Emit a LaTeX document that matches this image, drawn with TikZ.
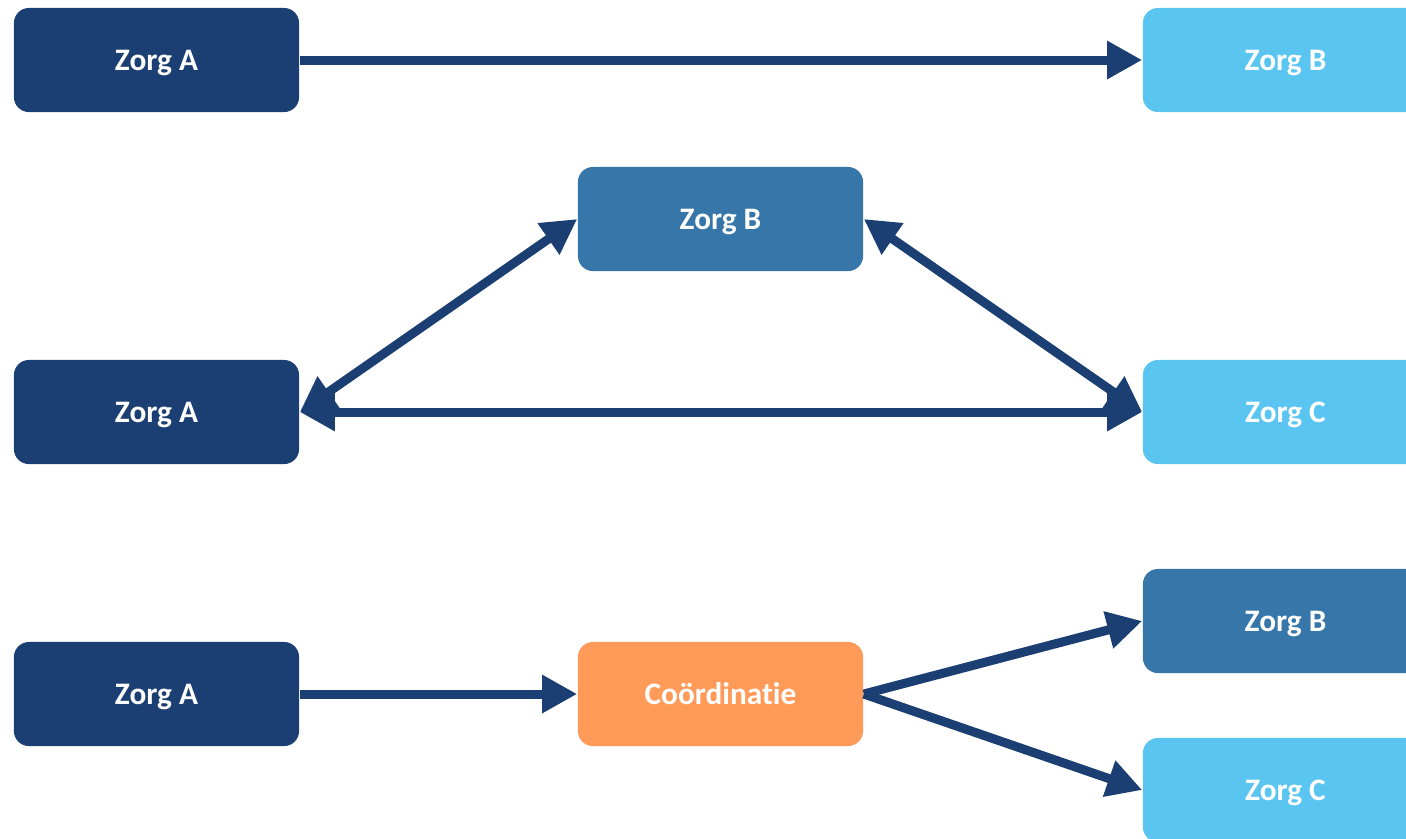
\documentclass[tikz,border=0pt]{standalone}
\usepackage{fontspec}
\setmainfont{Carlito}[Ligatures=NoCommon]
\usepackage{tikz}
\usetikzlibrary{arrows.meta}

\definecolor{navy}{HTML}{1B3F72}
\definecolor{midblue}{HTML}{3676A8}
\definecolor{lightblue}{HTML}{5BC5F2}
\definecolor{coord}{HTML}{FF9A59}

\tikzset{
    zorg/.style={rectangle, rounded corners=0.15cm, minimum width=2.85cm, minimum height=1.04cm, inner sep=0pt, text height=0.21cm, text depth=0cm, text=white, font=\fontsize{8.9}{10}\selectfont\bfseries},
    pijl/.style={navy, line width=0.09cm, -{Triangle[length=0.35cm,width=0.36cm]}},
    dpijl/.style={navy, line width=0.09cm, {Triangle[length=0.35cm,width=0.36cm]}-{Triangle[length=0.35cm,width=0.36cm]}}
}

\begin{document}
\begin{tikzpicture}[x=0.01cm, y=-0.01cm]
            \useasboundingbox (0, 0) rectangle (1406, 838);

            % bovenste rij
            \node[zorg, fill=navy] at (156.5, 60)   (zA1) {Zorg A};
            \node[zorg, fill=lightblue] at (1285.5, 60)   (zB1) {Zorg B};

            % driehoek
            \node[zorg, fill=midblue] at (720.5, 219)   (zB2) {Zorg B};
            \node[zorg, fill=navy] at (156.5, 412)   (zA2) {Zorg A};
            \node[zorg, fill=lightblue] at (1285.5, 412)   (zC2) {Zorg C};

            % via coordinatie
            \node[zorg, fill=navy] at (156.5, 694)   (zA3) {Zorg A};
            \node[zorg, fill=coord] at (720.5, 694)   (co) {Coördinatie};
            \node[zorg, fill=midblue] at (1285.5, 621)   (zB3) {Zorg B};
            \node[zorg, fill=lightblue] at (1285.5, 790)   (zC3) {Zorg C};

            \draw [pijl] (zA1.east) -- (zB1.west);

            \draw [dpijl] (zA2.east) -- (zB2.west);
            \draw [dpijl] (zB2.east) -- (zC2.west);
            \draw [dpijl] (zA2.east) -- (zC2.west);

            \draw [pijl] (zA3.east) -- (co.west);
            \draw [pijl] (co.east) -- (zB3.west);
            \draw [pijl] (co.east) -- (zC3.west);
        \end{tikzpicture}
\end{document}
